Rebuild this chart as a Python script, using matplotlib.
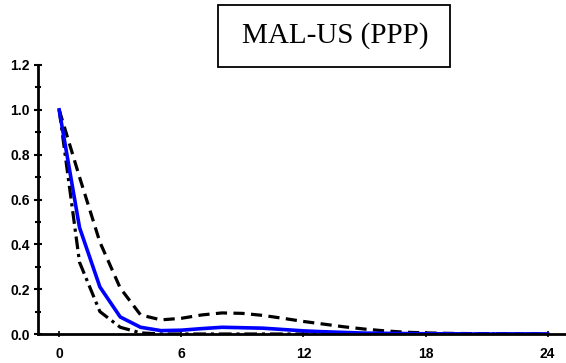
import matplotlib.pyplot as plt
from matplotlib.ticker import MultipleLocator

horizon = list(range(25))
point = [1.0, 0.475, 0.21, 0.076, 0.03, 0.015, 0.017, 0.024, 0.03, 0.028, 0.026, 0.02,
         0.014, 0.01, 0.007, 0.004, 0.003, 0.002, 0.001, 0.001, 0.0, 0.0, 0.0, 0.0, 0.0]
upper = [1.0, 0.70, 0.41, 0.205, 0.085, 0.063, 0.07, 0.085, 0.094, 0.092, 0.083, 0.07,
         0.056, 0.044, 0.032, 0.022, 0.014, 0.008, 0.005, 0.003, 0.002, 0.001, 0.001, 0.0, 0.0]
lower = [1.0, 0.32, 0.10, 0.03, 0.005, 0.0, 0.0, 0.0, 0.0, 0.0, 0.0, 0.0,
         0.0, 0.0, 0.0, 0.0, 0.0, 0.0, 0.0, 0.0, 0.0, 0.0, 0.0, 0.0, 0.0]
xticks = [0, 6, 12, 18, 24]
yticks = [0.0, 0.2, 0.4, 0.6, 0.8, 1.0, 1.2]
title = "MAL-US (PPP)"

fig = plt.figure(figsize=(5.66, 3.63), dpi=100)
ax = fig.add_axes([38 / 566, 29 / 363, 528 / 566, 269 / 363])

ax.plot(horizon, upper, color="black", lw=2.3, ls=(0, (3.5, 2)))
ax.plot(horizon, lower, color="black", lw=2.3, ls=(0, (4, 1.5, 1, 1.5)))
ax.plot(horizon, point, color="#0000ff", lw=2.6)

ax.set_xlim(-1.04, 24.9)
ax.set_ylim(0, 1.2)
ax.set_xticks(xticks)
ax.set_yticks(yticks)
ax.yaxis.set_minor_locator(MultipleLocator(0.1))
ax.set_xticklabels([str(t) for t in xticks])
ax.set_yticklabels(["%.1f" % t for t in yticks])

for s in ["top", "right"]:
    ax.spines[s].set_visible(False)
ax.spines["left"].set_linewidth(2)
ax.spines["bottom"].set_linewidth(2)
ax.tick_params(axis="y", which="major", direction="inout", length=6, width=1.5, pad=3)
ax.tick_params(axis="y", which="minor", direction="inout", length=5, width=1.5)
ax.tick_params(axis="x", which="major", direction="inout", length=4, width=1.2, pad=7)
for lab in ax.get_xticklabels() + ax.get_yticklabels():
    lab.set_fontfamily("Liberation Sans")
    lab.set_fontweight("bold")
    lab.set_fontsize(10)

fig.text(335 / 566, 1 - 36 / 363, title, ha="center", va="center",
         family="Liberation Serif", fontsize=21)
fig.patches.append(plt.Rectangle((218 / 566, 1 - 67 / 363), 232 / 566, 62 / 363,
                                 transform=fig.transFigure, fill=False,
                                 edgecolor="black", lw=1.3))

fig.savefig("out.png", dpi=100)
